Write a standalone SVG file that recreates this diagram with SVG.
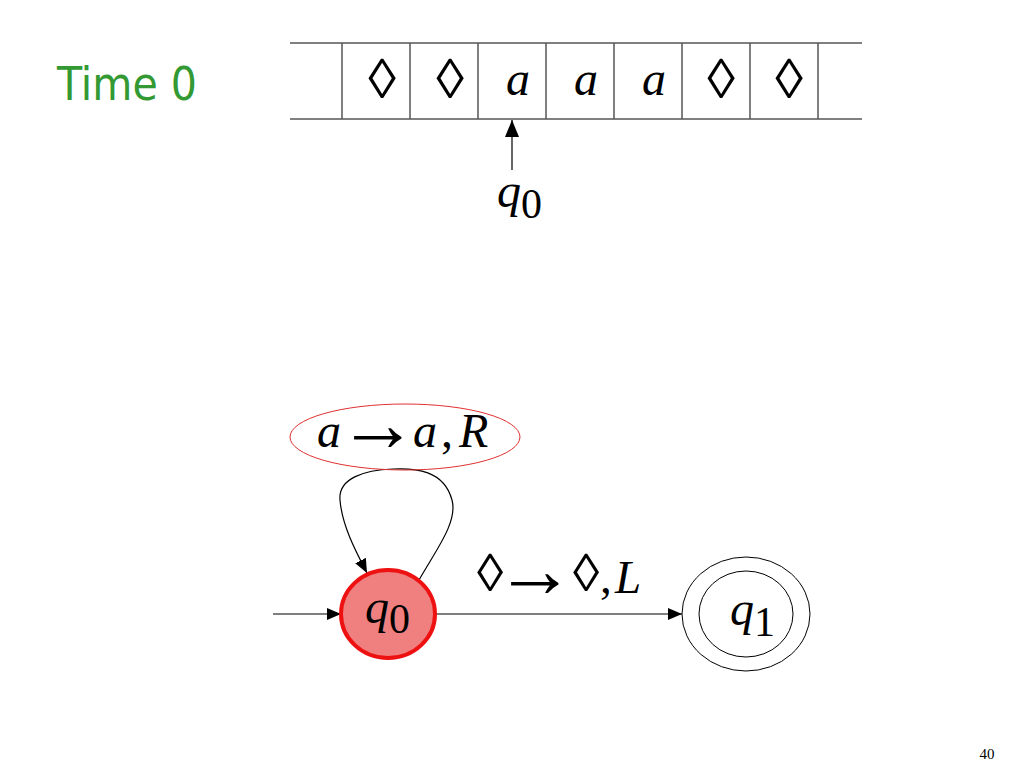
<svg xmlns="http://www.w3.org/2000/svg" width="1024" height="768" viewBox="0 0 1024 768">
<style>
.t{font-family:"Liberation Serif","Times New Roman",serif;fill:#000}
.i{font-style:italic}
.ar{font-family:"Liberation Mono","Courier New",monospace;font-style:normal}
.ln{stroke:#000;stroke-width:1.2;fill:none}
.hl{stroke:#000;stroke-width:1}
.vl{stroke:#555;stroke-width:1.5}
</style>
<defs>
<marker id="ah" viewBox="0 0 14 17" refX="7" refY="0" markerWidth="14" markerHeight="17" markerUnits="userSpaceOnUse" orient="0">
<path d="M7,0 L14,17 L0,17 z" fill="#000"/>
</marker>
<marker id="ah2" viewBox="0 0 14 12" refX="14" refY="6" markerWidth="14" markerHeight="12" markerUnits="userSpaceOnUse" orient="auto">
<path d="M0,0 L14,6 L0,12 z" fill="#000"/>
</marker>
</defs>
<rect width="1024" height="768" fill="#fff"/>
<text x="57" y="100" font-family="'Comic Sans MS','DejaVu Sans',sans-serif" font-size="47" fill="#339933" textLength="140" lengthAdjust="spacingAndGlyphs">Time 0</text>
<g id="tape">
<line class="hl" x1="290" y1="43" x2="862" y2="43"/>
<line class="hl" x1="290" y1="119" x2="862" y2="119"/>
<g class="vl">
<line x1="342" y1="43" x2="342" y2="119"/>
<line x1="410" y1="43" x2="410" y2="119"/>
<line x1="478" y1="43" x2="478" y2="119"/>
<line x1="546" y1="43" x2="546" y2="119"/>
<line x1="614" y1="43" x2="614" y2="119"/>
<line x1="682" y1="43" x2="682" y2="119"/>
<line x1="750" y1="43" x2="750" y2="119"/>
<line x1="818" y1="43" x2="818" y2="119"/>
</g>
<g class="t" text-anchor="middle">
<text x="382" y="98" font-size="56">◊</text>
<text x="450" y="98" font-size="56">◊</text>
<text x="518" y="95" font-size="48" class="i">a</text>
<text x="586" y="95" font-size="48" class="i">a</text>
<text x="654" y="95" font-size="48" class="i">a</text>
<text x="721" y="98" font-size="56">◊</text>
<text x="789" y="98" font-size="56">◊</text>
</g>
</g>
<g id="head">
<line class="ln" x1="512" y1="170" x2="512" y2="120" marker-end="url(#ah)"/>
<text class="t" x="497" y="207" font-size="48"><tspan class="i">q</tspan><tspan font-size="42" dy="11">0</tspan></text>
</g>
<g id="connectors">
<line class="ln" x1="273" y1="614" x2="341" y2="614" marker-end="url(#ah2)"/>
<line class="ln" x1="436" y1="614" x2="682" y2="614" marker-end="url(#ah2)"/>
<path class="ln" d="M419,580 C436,550 458,522 452,500 C444,470 415,468 393,469 C365,470 338,478 340,500 C342,525 355,550 367,573" marker-end="url(#ah2)"/>
</g>
<g id="label-loop">
<ellipse cx="405" cy="437" rx="115" ry="33" fill="none" stroke="#e03030" stroke-width="1"/>
<text class="t" y="447" font-size="48"><tspan class="i" x="317">a</tspan><tspan class="ar" x="354" font-size="80" dy="4">→</tspan><tspan class="i" x="413" dy="-4">a</tspan><tspan x="441">,</tspan><tspan class="i" x="459">R</tspan></text>
</g>
<g id="label-edge">
<text class="t" y="593" font-size="47"><tspan x="477" font-size="53" dy="-2">◊</tspan><tspan class="ar" x="511" font-size="80" dy="6">→</tspan><tspan x="573" font-size="53" dy="-6">◊</tspan><tspan x="600" dy="2">,</tspan><tspan class="i" x="615">L</tspan></text>
</g>
<g id="q0">
<ellipse cx="388" cy="614" rx="47" ry="44" fill="#f08080" stroke="#ee1111" stroke-width="4"/>
<text class="t" x="365" y="623" font-size="48"><tspan class="i">q</tspan><tspan font-size="42" dy="10">0</tspan></text>
</g>
<g id="q1">
<ellipse cx="746" cy="614" rx="64" ry="57" fill="none" stroke="#000" stroke-width="1"/>
<ellipse cx="746" cy="614" rx="47" ry="43" fill="none" stroke="#000" stroke-width="1"/>
<text class="t" x="730" y="625" font-size="48"><tspan class="i">q</tspan><tspan font-size="42" dy="11">1</tspan></text>
</g>
<text class="t" x="987" y="759" font-size="15" text-anchor="middle">40</text>
</svg>
